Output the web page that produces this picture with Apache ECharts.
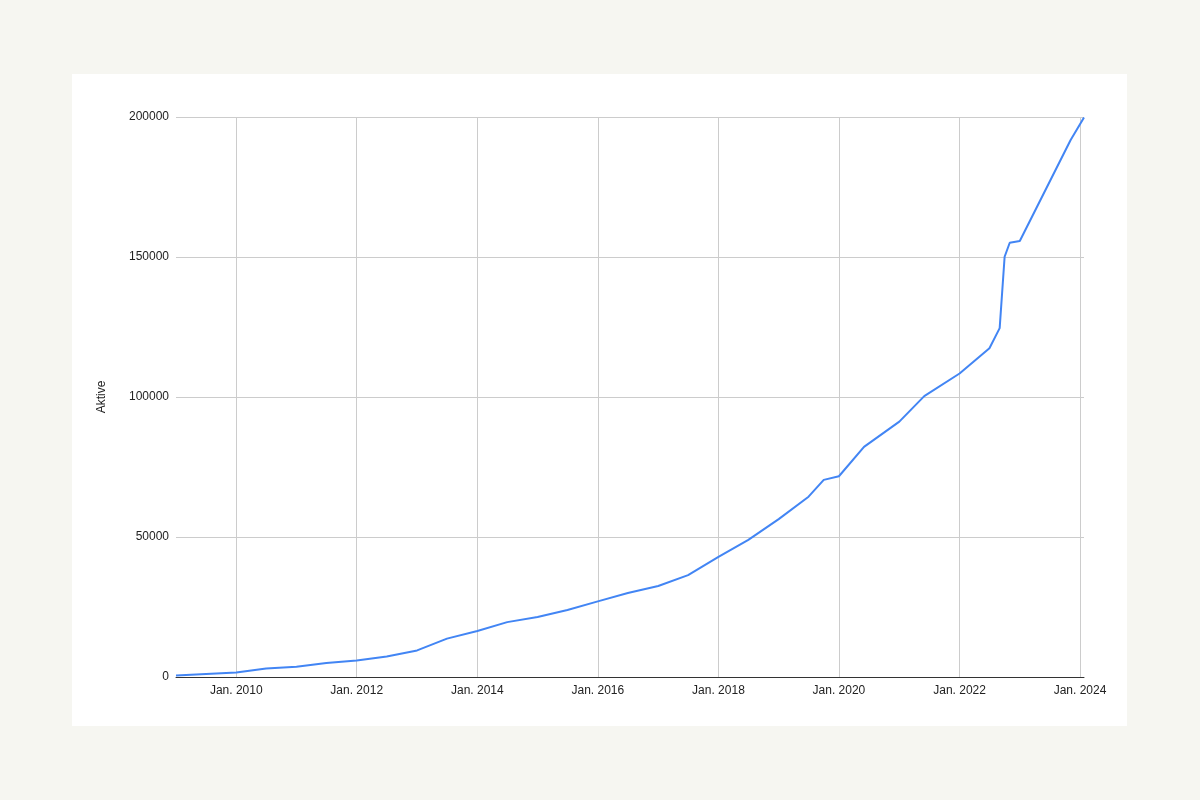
<!DOCTYPE html>
<html>
<head>
<meta charset="utf-8">
<script src="https://cdn.jsdelivr.net/npm/echarts@6/dist/echarts.min.js"></script>
<style>
  html, body { margin: 0; padding: 0; width: 1200px; height: 800px; background: #f6f6f1; overflow: hidden; }
  #card { position: absolute; left: 72px; top: 74px; width: 1055px; height: 652px; background: #ffffff; }
</style>
</head>
<body>
<div id="card"></div>
<script>
// Data: date of observation and number of active members
const dates = [
  '2009-01-01', '2010-01-01', '2010-07-01', '2011-01-01', '2011-07-01',
  '2012-01-01', '2012-07-01', '2013-01-01', '2013-07-01', '2014-01-01',
  '2014-07-01', '2015-01-01', '2015-07-01', '2016-01-01', '2016-07-01',
  '2017-01-01', '2017-07-01', '2018-01-01', '2018-07-01', '2019-01-01',
  '2019-07-01', '2019-10-01', '2020-01-01', '2020-06-01', '2021-01-01',
  '2021-06-01', '2022-01-01', '2022-07-01', '2022-09-01', '2022-10-01',
  '2022-11-01', '2023-01-01', '2023-11-05', '2024-01-25'
];
const aktive = [
  500, 1600, 3000, 3700, 5000,
  5900, 7300, 9500, 13700, 16400,
  19600, 21400, 23900, 27000, 30000,
  32500, 36400, 42900, 49000, 56400,
  64400, 70400, 71700, 82200, 91200,
  100300, 108400, 117400, 124600, 150100,
  155100, 155700, 191800, 199800
];
const xTickLabels = ['2010-01-01', '2012-01-01', '2014-01-01', '2016-01-01', '2018-01-01', '2020-01-01', '2022-01-01', '2024-01-01'];
const yMin = 0, yMax = 200000, yStep = 50000;

const ts = d => { const p = d.split('-').map(Number); return Date.UTC(p[0], p[1] - 1, p[2]); };
const xTicks = xTickLabels.map(ts);
const seriesData = dates.map((d, i) => [ts(d), aktive[i]]);

const chart = echarts.init(document.getElementById('card'), null, { renderer: 'canvas' });
const font = 'Liberation Sans, Arial, sans-serif';
chart.setOption({
  animation: false,
  backgroundColor: '#ffffff',
  grid: { left: 104, top: 43, right: 43, bottom: 49, containLabel: false },
  xAxis: {
    type: 'value',
    min: ts(dates[0]),
    max: ts(dates[dates.length - 1]),
    axisLine: { show: true, lineStyle: { color: '#333333', width: 1 } },
    axisTick: { show: false, customValues: xTicks },
    axisLabel: {
      customValues: xTicks,
      showMinLabel: true, showMaxLabel: true,
      color: '#222222', fontSize: 12, fontFamily: font, margin: 8,
      formatter: v => 'Jan. ' + new Date(v).getUTCFullYear()
    },
    splitLine: { show: true, lineStyle: { color: '#cccccc', width: 1 } }
  },
  yAxis: {
    type: 'value',
    min: yMin, max: yMax, interval: yStep,
    name: 'Aktive',
    nameLocation: 'middle',
    nameGap: 68,
    nameRotate: 90,
    nameTextStyle: { color: '#222222', fontSize: 12, fontFamily: font },
    axisLine: { show: false },
    axisTick: { show: false },
    axisLabel: { color: '#222222', fontSize: 12, fontFamily: font, margin: 7, formatter: v => String(v) },
    splitLine: { show: true, lineStyle: { color: '#cccccc', width: 1 } }
  },
  series: [{
    type: 'line',
    data: seriesData,
    showSymbol: false,
    symbol: 'none',
    lineStyle: { color: '#4285f4', width: 2 },
    z: 3
  }]
});
</script>
</body>
</html>
